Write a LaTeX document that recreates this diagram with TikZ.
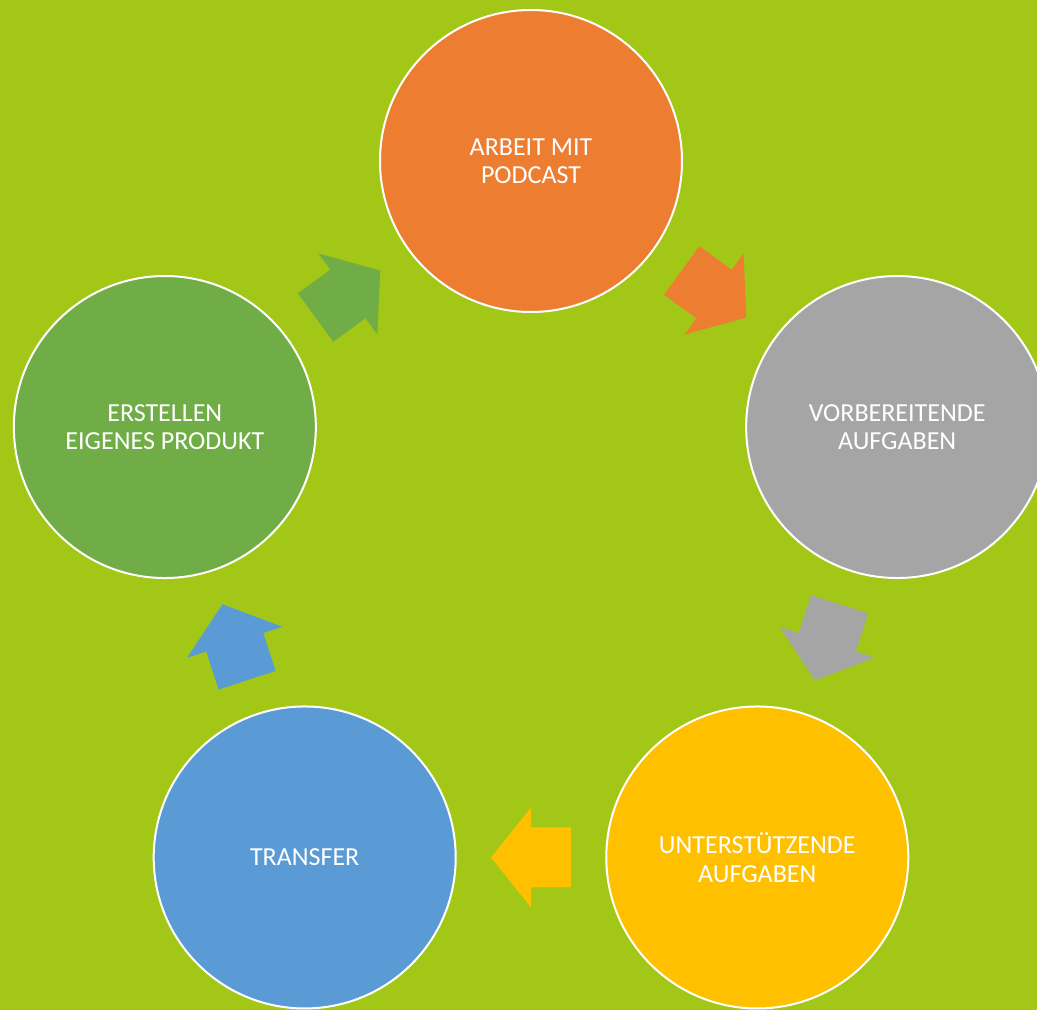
\documentclass[tikz,border=0pt]{standalone}
\usepackage{fontspec}
\setmainfont{Carlito}
\usepackage{tikz}
\usetikzlibrary{calc}

\definecolor{bggreen}{RGB}{163,199,22}
\definecolor{podcastorange}{RGB}{237,125,49}
\definecolor{prepgray}{RGB}{165,165,165}
\definecolor{supportyellow}{RGB}{255,192,0}
\definecolor{transferblue}{RGB}{91,155,213}
\definecolor{productgreen}{RGB}{112,173,71}

\begin{document}
\begin{tikzpicture}[x=1pt,y=1pt,
	phase/.style={draw=white,line width=2pt,shape=circle,minimum size=302pt,inner sep=0pt,text=white,align=center,font=\fontsize{26}{28.5}\selectfont}]
	\useasboundingbox (-531,-464) rectangle (506,546);
	\clip (-531,-464) rectangle (506,546);
	\fill[bggreen] (-531,-464) rectangle (506,546);
	\draw (90:385) node(C1) [phase,fill=podcastorange] {ARBEIT MIT\\PODCAST};
	\draw (18:385) node(C2) [phase,fill=prepgray] {VORBEREITENDE\\AUFGABEN};
	\draw (-54:385) node(C3) [phase,fill=supportyellow] {UNTERSTÜTZENDE\\AUFGABEN};
	\draw (-126:385) node(C4) [phase,fill=transferblue] {TRANSFER};
	\draw (162:385) node(C5) [phase,fill=productgreen] {ERSTELLEN\\EIGENES PRODUKT};
	\fill[podcastorange,shift={($(C1)!0.5!(C2)$)},rotate=-36] (-40,-30) -- (0,-30) -- (0,-50) -- (40,0) -- (0,50) -- (0,30) -- (-40,30) -- cycle;
	\fill[prepgray,shift={($(C2)!0.5!(C3)$)},rotate=-108] (-40,-30) -- (0,-30) -- (0,-50) -- (40,0) -- (0,50) -- (0,30) -- (-40,30) -- cycle;
	\fill[supportyellow,shift={($(C3)!0.5!(C4)$)},rotate=180] (-40,-30) -- (0,-30) -- (0,-50) -- (40,0) -- (0,50) -- (0,30) -- (-40,30) -- cycle;
	\fill[transferblue,shift={($(C4)!0.5!(C5)$)},rotate=108] (-40,-30) -- (0,-30) -- (0,-50) -- (40,0) -- (0,50) -- (0,30) -- (-40,30) -- cycle;
	\fill[productgreen,shift={($(C5)!0.5!(C1)$)},rotate=36] (-40,-30) -- (0,-30) -- (0,-50) -- (40,0) -- (0,50) -- (0,30) -- (-40,30) -- cycle;
\end{tikzpicture}
\end{document}
